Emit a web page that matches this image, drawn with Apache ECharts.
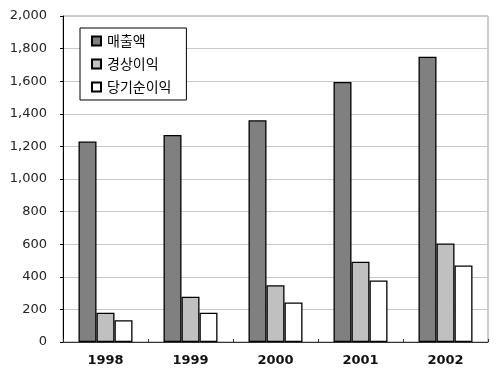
<!DOCTYPE html>
<html><head><meta charset="utf-8">
<script src="https://cdn.jsdelivr.net/npm/echarts@6/dist/echarts.min.js"></script>
<style>html,body{margin:0;padding:0;background:#fff}#c{width:500px;height:374px}</style>
</head><body><div id="c"></div>
<script>
const categories = ['1998','1999','2000','2001','2002'];
const seriesNames = ['매출액','경상이익','당기순이익'];
const sales = [1230, 1270, 1360, 1595, 1750];
const ordinaryProfit = [180, 278, 348, 493, 604];
const netProfit = [133, 180, 243, 378, 470];
const yTicks = [0,200,400,600,800,1000,1200,1400,1600,1800,2000];

const colors = ['#808080','#c0c0c0','#ffffff'];
const values = [sales, ordinaryProfit, netProfit];
const chart = echarts.init(document.getElementById('c'), null, {renderer:'canvas'});
chart.setOption({
  animation:false,
  backgroundColor:'#fff',
  grid:{left:63,right:12,top:16,bottom:32,show:true,borderColor:'#999',borderWidth:1,backgroundColor:'transparent'},
  legend:{
    orient:'vertical', left:80, top:28,
    data:seriesNames,
    itemWidth:9, itemHeight:9, itemGap:9,
    padding:[6,15,6,11],
    borderColor:'#000', borderWidth:1, backgroundColor:'#fff',
    icon:'rect',
    textStyle:{fontFamily:'"Noto Sans CJK KR"',fontSize:14,color:'#000',padding:[0,0,0,1]}
  },
  xAxis:{
    type:'category', data:categories,
    axisLine:{lineStyle:{color:'#333',width:1}},
    axisTick:{show:true,inside:true,length:3,lineStyle:{color:'#333'}},
    axisLabel:{fontFamily:'DejaVu Sans',fontWeight:'bold',fontSize:13,color:'#111',margin:12}
  },
  yAxis:{
    type:'value', min:yTicks[0], max:yTicks[yTicks.length-1], interval:yTicks[1]-yTicks[0],
    axisLine:{show:true,lineStyle:{color:'#000',width:1}},
    axisTick:{show:true,length:3,lineStyle:{color:'#000'}},
    splitLine:{lineStyle:{color:'#c8c8c8',width:1}},
    axisLabel:{fontFamily:'DejaVu Sans',fontSize:13,color:'#222',margin:16,
      formatter:v=>v.toLocaleString('en-US')}
  },
  series: seriesNames.map((n,i)=>({
    name:n, type:'bar', data:values[i],
    barWidth:18, barGap:'0%',
    itemStyle:{color:colors[i],borderColor:'#000',borderWidth:1.3}
  }))
});
</script></body></html>
